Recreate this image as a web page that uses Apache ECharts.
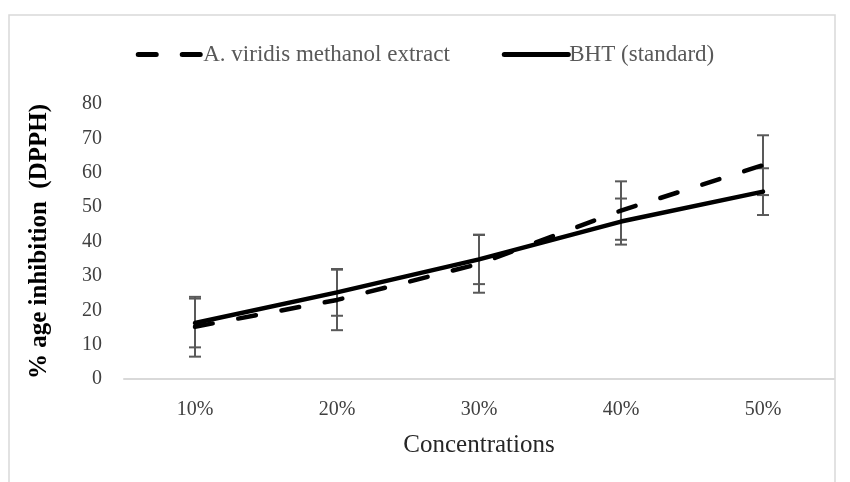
<!DOCTYPE html>
<html>
<head>
<meta charset="utf-8">
<script src="https://cdn.jsdelivr.net/npm/echarts@6/dist/echarts.min.js"></script>
<style>
  html, body { margin: 0; padding: 0; background: #fff; }
  #chart { width: 850px; height: 482px; }
</style>
</head>
<body>
<div id="chart"></div>
<script>
// Concentration levels on the x axis
const concentrations = ['10%', '20%', '30%', '40%', '50%'];

// Mean % inhibition (DPPH) and error (±) for each sample
const extractValues = [15.2, 23.0, 33.5, 49.0, 62.2];
const extractErrors = [8.7, 8.8, 8.4, 8.5, 8.7];
const bhtValues = [16.3, 25.2, 34.8, 45.8, 54.5];
const bhtErrors = [7.1, 6.8, 7.2, 6.7, 6.8];

const yTicks = { min: 0, max: 80, interval: 10 };

const seriesNames = ['A. viridis methanol extract', 'BHT (standard)'];

const serif = '"Liberation Serif", "DejaVu Serif", serif';

// Vertical error bar with caps, built from [index, low, high]
function errorBarItem(params, api) {
  const x = api.value(0);
  const low = api.coord([x, api.value(1)]);
  const high = api.coord([x, api.value(2)]);
  const half = 6;
  const style = { stroke: '#595959', lineWidth: 2 };
  return {
    type: 'group',
    children: [
      { type: 'line', shape: { x1: low[0], y1: low[1], x2: high[0], y2: high[1] }, style },
      { type: 'line', shape: { x1: low[0] - half, y1: low[1], x2: low[0] + half, y2: low[1] }, style },
      { type: 'line', shape: { x1: high[0] - half, y1: high[1], x2: high[0] + half, y2: high[1] }, style }
    ]
  };
}

function errorData(values, errors) {
  return values.map((v, i) => [i, v - errors[i], v + errors[i]]);
}

const chart = echarts.init(document.getElementById('chart'), null, { renderer: 'canvas' });

chart.setOption({
  animation: false,
  backgroundColor: '#fff',
  graphic: [{
    type: 'rect',
    shape: { x: 9, y: 15, width: 826, height: 480 },
    style: { fill: 'none', stroke: '#d9d9d9', lineWidth: 1.5 },
    silent: true
  }],
  legend: {
    top: 38,
    left: 'center',
    itemWidth: 64,
    itemHeight: 16,
    itemGap: 52,
    data: seriesNames,
    itemStyle: { opacity: 0 },
    lineStyle: { width: 5, cap: 'round' },
    textStyle: { fontFamily: serif, fontSize: 23, color: '#595959', padding: [0, 0, 0, -4] }
  },
  grid: { left: 124, right: 16, top: 104, bottom: 103 },
  xAxis: {
    type: 'category',
    data: concentrations,
    boundaryGap: true,
    name: 'Concentrations',
    nameLocation: 'middle',
    nameGap: 54,
    nameTextStyle: { fontFamily: serif, fontSize: 25, color: '#262626' },
    axisLine: { lineStyle: { color: '#d9d9d9', width: 2 } },
    axisTick: { show: false },
    axisLabel: { fontFamily: serif, fontSize: 20, color: '#404040', margin: 21 }
  },
  yAxis: {
    type: 'value',
    min: yTicks.min,
    max: yTicks.max,
    interval: yTicks.interval,
    name: '% age inhibition  (DPPH)',
    nameLocation: 'middle',
    nameGap: 72,
    nameTextStyle: { fontFamily: serif, fontSize: 25, fontWeight: 'bold', color: '#000' },
    axisLine: { show: false },
    axisTick: { show: false },
    splitLine: { show: false },
    axisLabel: { fontFamily: serif, fontSize: 20, color: '#404040', margin: 22 }
  },
  series: [
    {
      name: seriesNames[0],
      type: 'line',
      data: extractValues,
      symbol: 'none',
      lineStyle: { color: '#000', width: 4.5, type: [18, 26], cap: 'round' },
      itemStyle: { color: '#000' },
      z: 3
    },
    {
      name: seriesNames[1],
      type: 'line',
      data: bhtValues,
      symbol: 'none',
      lineStyle: { color: '#000', width: 4.5, cap: 'round' },
      itemStyle: { color: '#000' },
      z: 3
    },
    {
      type: 'custom',
      renderItem: errorBarItem,
      data: errorData(extractValues, extractErrors),
      encode: { x: 0, y: [1, 2] },
      z: 2
    },
    {
      type: 'custom',
      renderItem: errorBarItem,
      data: errorData(bhtValues, bhtErrors),
      encode: { x: 0, y: [1, 2] },
      z: 2
    }
  ]
});
</script>
</body>
</html>
